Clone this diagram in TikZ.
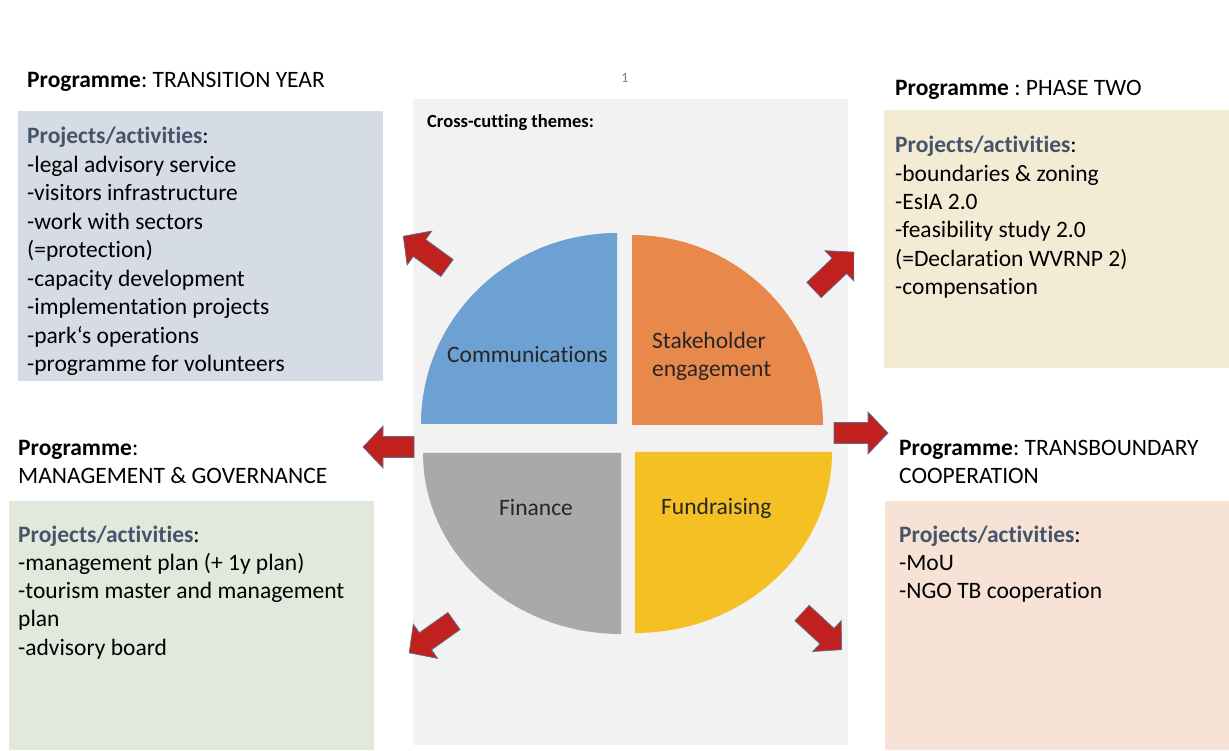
\documentclass[tikz,border=0pt]{standalone}
\usepackage{fontspec}
\setmainfont{Carlito}[RawFeature={-liga}]
\frenchspacing
\definecolor{panel}{HTML}{F2F2F2}
\definecolor{cblue}{HTML}{6DA1D3}
\definecolor{corange}{HTML}{E8894B}
\definecolor{cgray}{HTML}{A9A9A9}
\definecolor{cyellow}{HTML}{F4C023}
\definecolor{boxA}{HTML}{D6DCE5}
\definecolor{boxB}{HTML}{F3EBD4}
\definecolor{boxC}{HTML}{E2E8DC}
\definecolor{boxD}{HTML}{F6E3D6}
\definecolor{headc}{HTML}{44546A}
\definecolor{arrred}{HTML}{C0211F}
\definecolor{arredge}{HTML}{5B7293}
\newcommand{\blockarrow}[4]{%
  \begin{scope}[shift={(#1,#2)},rotate=#3]
    \filldraw[arrowfill] (0,-10.5) -- ({#4-20},-10.5) -- ({#4-20},-21) -- (#4,0)
      -- ({#4-20},21) -- ({#4-20},10.5) -- (0,10.5) -- cycle;
  \end{scope}}
\newcommand{\hd}{{\bfseries\color{headc}Projects/activities}:}
\begin{document}
\frenchspacing
\begin{tikzpicture}[x=1pt,y=1pt,
  txt/.style={anchor=base west,inner sep=0pt,font=\fontsize{23.5}{28}\selectfont,text=black},
  lbl/.style={anchor=base west,inner sep=0pt,font=\fontsize{23.5}{28}\selectfont,text=black!85},
  arrowfill/.style={fill=arrred,draw=arredge,line width=0.7pt,line join=miter}]
\useasboundingbox (0,0) rectangle (1229,750);
% central panel
\fill[panel] (413,5) rectangle (848,651);
\node[anchor=base,inner sep=0pt,font=\fontsize{14}{16}\selectfont,text=gray] (pg) at (625,667) {1};
\node[anchor=base west,inner sep=0pt,font=\fontsize{18.5}{21}\selectfont\bfseries] (cct) at (427,622) {Cross-cutting themes:};
% quadrants
\fill[cblue] (617,326) -- (617,517) arc[start angle=90,end angle=180,x radius=196,y radius=191] -- cycle;
\fill[corange] (632,325) -- (632,515) arc[start angle=90,end angle=0,x radius=191,y radius=190] -- cycle;
\fill[cgray] (621,297) -- (423,297) arc[start angle=180,end angle=270,x radius=198,y radius=181] -- cycle;
\fill[cyellow] (635,298) -- (832,298) arc[start angle=0,end angle=-90,x radius=197,y radius=181] -- cycle;
\node[lbl] (comm) at (447,387) {Communications};
\node[lbl] (stk1) at (652,401) {Stakeholder};
\node[lbl] (stk2) at (652,373) {engagement};
\node[lbl] (fin) at (499,234) {Finance};
\node[lbl] (fund) at (661,235) {Fundraising};
% boxes
\fill[boxA] (18,369) rectangle (383,639);
\fill[boxB] (884,382) rectangle (1229,640);
\fill[boxC] (9,0) rectangle (374,249);
\fill[boxD] (885,0) rectangle (1229,249);
% titles
\node[txt] (tA) at (27,662) {\textbf{Programme}: TRANSITION YEAR};
\node[txt] (tB) at (895,654) {\textbf{Programme} : PHASE TWO};
\node[txt] (tC1) at (18,294) {\textbf{Programme}:};
\node[txt] (tC2) at (18,266) {MANAGEMENT \& GOVERNANCE};
\node[txt] (tD1) at (899,294) {\textbf{Programme}: TRANSBOUNDARY};
\node[txt] (tD2) at (899,266) {COOPERATION};
% box contents
\foreach \t [count=\i from 0] in {\hd,-legal advisory service,-visitors infrastructure,-work with sectors,(=protection),-capacity development,-implementation projects,-park‘s operations,-programme for volunteers}
  \node[txt] (a\i) at (27,{606-28.5*\i}) {\t};
\foreach \t [count=\i from 0] in {\hd,-boundaries \& zoning,-EsIA 2.0,-feasibility study 2.0,(=Declaration WVRNP 2),-compensation}
  \node[txt] (b\i) at (895,{597-28.3*\i}) {\t};
\foreach \t [count=\i from 0] in {\hd,-management plan (+ 1y plan),-tourism master and management,plan,-advisory board}
  \node[txt] (c\i) at (18,{207-28*\i}) {\t};
\foreach \t [count=\i from 0] in {\hd,-MoU,-NGO TB cooperation}
  \node[txt] (d\i) at (899,{207-28*\i}) {\t};
% block arrows
\blockarrow{447}{482}{144}{54}
\blockarrow{814}{460}{43.5}{55}
\blockarrow{834}{317}{0}{54}
\blockarrow{414}{303}{180}{51}
\blockarrow{454}{129}{215.4}{55}
\blockarrow{802}{137}{-42.8}{54}
\end{tikzpicture}
\end{document}
